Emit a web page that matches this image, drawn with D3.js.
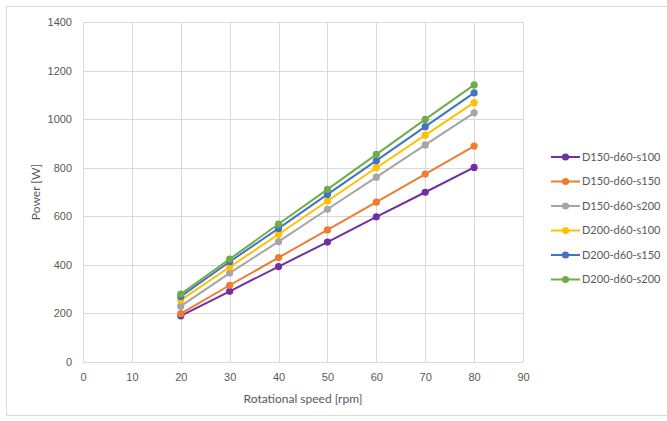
<!DOCTYPE html>
<html>
<head>
<meta charset="utf-8">
<script src="https://cdn.jsdelivr.net/npm/d3@7"></script>
<style>
  body { margin: 0; background: #fff; }
  svg { font-family: Lato, "Open Sans", sans-serif; }
  .grid line { stroke: #d9d9d9; stroke-width: 1; }
  .tick text { fill: #595959; font-size: 11px; }
</style>
</head>
<body>
<div id="chart"></div>
<script>
const speeds = [20, 30, 40, 50, 60, 70, 80];
const seriesNames = ["D150-d60-s100", "D150-d60-s150", "D150-d60-s200", "D200-d60-s100", "D200-d60-s150", "D200-d60-s200"];
const s1 = [190, 291, 393, 494, 598, 699, 801];
const s2 = [199, 316, 430, 544, 658, 774, 889];
const s3 = [230, 366, 496, 629, 761, 894, 1026];
const s4 = [255, 391, 526, 663, 800, 934, 1068];
const s5 = [270, 413, 550, 690, 829, 969, 1108];
const s6 = [280, 424, 568, 711, 855, 999, 1141];
const seriesColors = ["#7030a0", "#ed7d31", "#a5a5a5", "#ffc000", "#4472c4", "#70ad47"];
const xTicks = [0, 10, 20, 30, 40, 50, 60, 70, 80, 90];
const yTicks = [0, 200, 400, 600, 800, 1000, 1200, 1400];

const width = 667, height = 421;
const margin = { left: 83, right: 144, top: 22, bottom: 59 };

const svg = d3.select("#chart").append("svg")
    .attr("width", width)
    .attr("height", height);

// outer chart frame
svg.append("rect")
    .attr("x", 6.5).attr("y", 6.5)
    .attr("width", width + 10).attr("height", 409)
    .attr("fill", "#fff")
    .attr("stroke", "#d9d9d9");

const x = d3.scaleLinear().domain([0, 90]).range([margin.left, width - margin.right]);
const y = d3.scaleLinear().domain([0, 1400]).range([height - margin.bottom, margin.top]);

// gridlines
const grid = svg.append("g").attr("class", "grid");
grid.selectAll(".h").data(yTicks).enter().append("line")
    .attr("x1", x(0)).attr("x2", x(90))
    .attr("y1", d => Math.round(y(d)) + 0.5).attr("y2", d => Math.round(y(d)) + 0.5);
grid.selectAll(".v").data(xTicks).enter().append("line")
    .attr("y1", y(0)).attr("y2", y(1400))
    .attr("x1", d => Math.round(x(d)) + 0.5).attr("x2", d => Math.round(x(d)) + 0.5);

// axes (labels only; lines come from grid)
const xAxis = d3.axisBottom(x).tickValues(xTicks).tickSize(0).tickPadding(11).tickFormat(d3.format("d"));
const yAxis = d3.axisLeft(y).tickValues(yTicks).tickSize(0).tickPadding(11).tickFormat(d3.format("d"));

svg.append("g")
    .attr("transform", `translate(0, ${y(0)})`)
    .call(xAxis)
    .call(g => g.select(".domain").remove());
svg.append("g")
    .attr("transform", `translate(${x(0)}, 0)`)
    .call(yAxis)
    .call(g => g.select(".domain").remove());

// axis titles
svg.append("text")
    .attr("x", (x(0) + x(90)) / 2).attr("y", 403)
    .attr("text-anchor", "middle")
    .attr("fill", "#595959").attr("font-size", 12)
    .text("Rotational speed [rpm]");
svg.append("text")
    .attr("transform", `translate(40, ${(y(0) + y(1400)) / 2}) rotate(-90)`)
    .attr("text-anchor", "middle")
    .attr("fill", "#595959").attr("font-size", 12)
    .text("Power [W]");

// series
const allValues = [s1, s2, s3, s4, s5, s6];
const data = seriesNames.map((name, i) => ({
    name: name,
    color: seriesColors[i],
    points: speeds.map((s, j) => [s, allValues[i][j]])
}));

const line = d3.line().x(d => x(d[0])).y(d => y(d[1]));

const series = svg.append("g").selectAll("g")
    .data(data)
    .enter()
    .append("g");

series.append("path")
    .attr("d", d => line(d.points))
    .attr("fill", "none")
    .attr("stroke", d => d.color)
    .attr("stroke-width", 2);

series.selectAll("circle")
    .data(d => d.points.map(p => ({ p: p, color: d.color })))
    .enter()
    .append("circle")
    .attr("cx", d => x(d.p[0]))
    .attr("cy", d => y(d.p[1]))
    .attr("r", 3.6)
    .attr("fill", d => d.color);

// legend
const legend = svg.append("g").selectAll("g")
    .data(data)
    .enter()
    .append("g")
    .attr("transform", (d, i) => `translate(551, ${157 + i * 24.5})`);

legend.append("line")
    .attr("x1", 0).attr("x2", 29)
    .attr("stroke", d => d.color)
    .attr("stroke-width", 2);
legend.append("circle")
    .attr("cx", 14.5).attr("r", 3.6)
    .attr("fill", d => d.color);
legend.append("text")
    .attr("x", 31).attr("dy", "0.35em")
    .attr("fill", "#595959").attr("font-size", 11)
    .text(d => d.name);
</script>
</body>
</html>
